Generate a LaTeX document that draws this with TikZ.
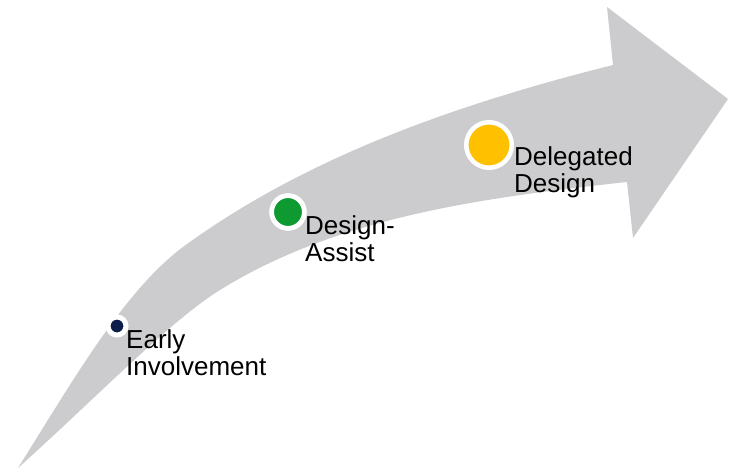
\documentclass[tikz,border=0pt]{standalone}
\usepackage{fontspec}
\setmainfont{Liberation Sans}
\definecolor{arrowgray}{RGB}{204,204,206}
\definecolor{dotnavy}{RGB}{14,30,75}
\definecolor{dotgreen}{RGB}{14,154,48}
\definecolor{dotyellow}{RGB}{255,192,0}
\begin{document}
\begin{tikzpicture}[x=1pt,y=-1pt,dot/.style={circle,draw=white,inner sep=0pt},lbl/.style={anchor=base west,align=left,inner sep=0pt,font=\fontsize{26}{26.5}\selectfont}]
\useasboundingbox (0,0) rectangle (738,471);
\fill[arrowgray] (18,468) .. controls (78,372) and (127,287) .. (187,244) .. controls (297,165) and (433,110) .. (613,65) -- (607,7) -- (728,99) -- (633,238) -- (627,182) .. controls (487,197.4) and (340,215.6) .. (220,290) .. controls (170,321) and (98,396) .. (18,468) -- cycle;
\node[dot,fill=dotnavy,line width=5pt,minimum size=18pt] (early) at (117,326) {};\node[lbl] (earlytext) at (126,375) {Early\\Involvement};
\node[dot,fill=dotgreen,line width=4.8pt,minimum size=32.8pt] (assist) at (288,212) {};\node[lbl] (assisttext) at (305,261) {Design-\\Assist};
\node[dot,fill=dotyellow,line width=4.5pt,minimum size=45.5pt] (delegated) at (489,145) {};\node[lbl] (delegatedtext) at (514,192) {Delegated\\Design};
\end{tikzpicture}
\end{document}
